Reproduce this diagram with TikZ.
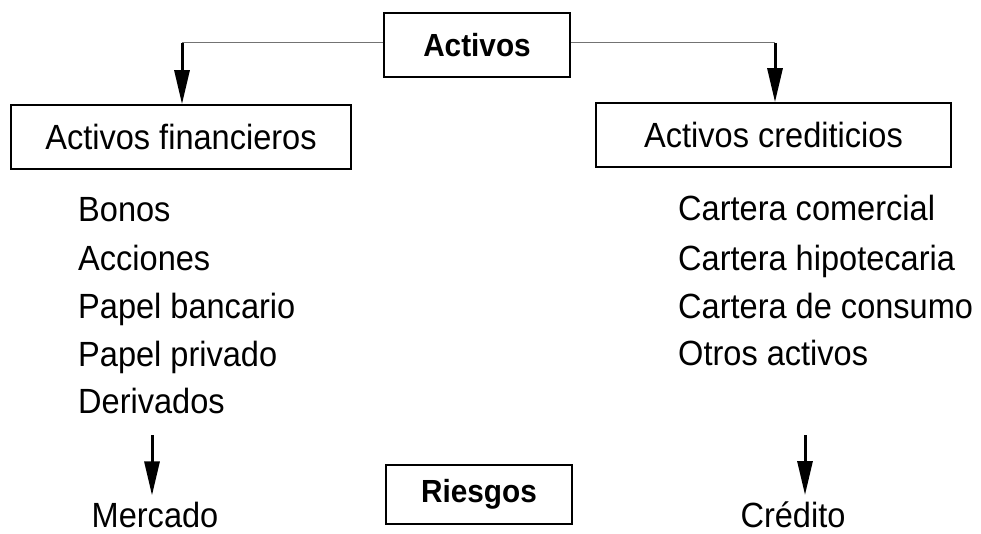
\documentclass[tikz,border=0pt]{standalone}
\usepackage{fontspec}
\setmainfont{Liberation Sans}[FakeStretch=0.93]
\usetikzlibrary{arrows.meta}
\tikzset{
  boxnode/.style={draw=black, line width=1.6pt, minimum height=64pt, inner sep=0pt, font=\fontsize{35}{42}\selectfont},
  titlebox/.style={boxnode, font=\fontsize{32}{38}\selectfont\bfseries},
  itemtext/.style={anchor=base west, inner sep=0pt, font=\fontsize{35}{42}\selectfont},
  restext/.style={anchor=base, inner sep=0pt, font=\fontsize{35}{42}\selectfont},
  link/.style={draw=black!55, line width=1pt},
  bigarrow/.style={draw=black, line width=3pt, -{Triangle[length=34pt,width=15pt]}}
}
\begin{document}
\begin{tikzpicture}[x=1pt,y=-1pt]
\useasboundingbox (0,0) rectangle (981,534);
\node[titlebox, minimum width=186pt] (act) at (477,45) {Activos};
\node[boxnode, minimum width=340pt] (fin) at (181,137) {Activos financieros};
\node[boxnode, minimum width=355pt] (cred) at (773.5,135) {Activos crediticios};
\node[titlebox, minimum width=186pt, minimum height=59pt] (ries) at (479,494.5) {Riesgos};

\node[itemtext] (f1) at (78,222) {Bonos};
\node[itemtext] (f2) at (78,270) {Acciones};
\node[itemtext] (f3) at (78,318) {Papel bancario};
\node[itemtext] (f4) at (78,366) {Papel privado};
\node[itemtext] (f5) at (78,413) {Derivados};

\node[itemtext] (c1) at (678,221) {Cartera comercial};
\node[itemtext] (c2) at (678,270) {Cartera hipotecaria};
\node[itemtext] (c3) at (678,318) {Cartera de consumo};
\node[itemtext] (c4) at (678,365) {Otros activos};

\node[restext] (merc) at (155,527) {Mercado};
\node[restext] (credito) at (793,527) {Crédito};

\coordinate (lt) at (182,43);
\coordinate (rt) at (775,43);
\draw[link] (act.west |- lt) -- (lt);
\draw[link] (act.east |- rt) -- (rt);
\draw[bigarrow] (lt) -- (lt |- fin.north);
\draw[bigarrow] (rt) -- (rt |- cred.north);

\coordinate (mt) at (152,435);
\coordinate (ct) at (805,435);
\draw[bigarrow, shorten >=6pt] (mt) -- (mt |- merc.north);
\draw[bigarrow, shorten >=6pt] (ct) -- (ct |- credito.north);
\end{tikzpicture}
\end{document}
